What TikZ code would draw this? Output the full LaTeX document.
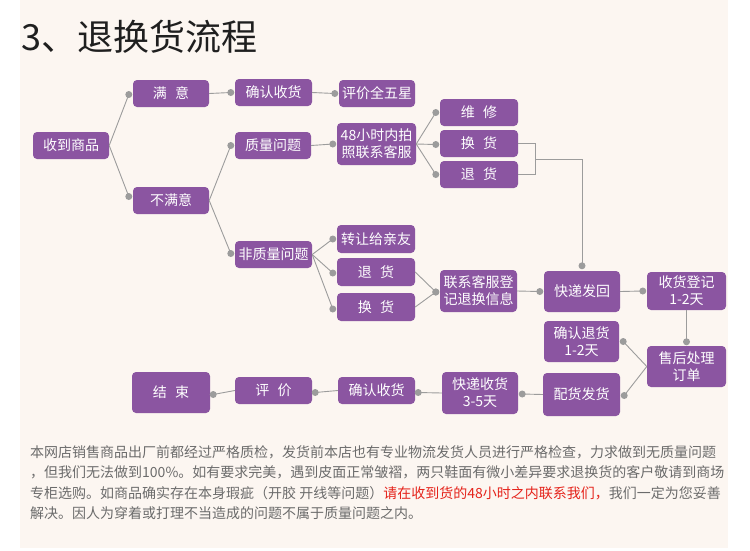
\documentclass[tikz,border=0pt]{standalone}
\usepackage{fontspec}
\setmainfont{Noto Sans CJK SC}
\usetikzlibrary{calc}
\definecolor{cream}{HTML}{FCF6F1}
\definecolor{boxpurple}{HTML}{8B55A1}
\definecolor{linegray}{HTML}{9C9C9C}
\definecolor{bodygray}{HTML}{6B6B6B}
\definecolor{alertred}{HTML}{E5231B}
\newcommand\gapp{\hspace{0.6em}}
\newcommand\lnk[2]{\draw[conn] (#1) -- (#2); \fill[dotc] (#2) circle (3.5pt);}
\begin{document}
\begin{tikzpicture}[x=1pt,y=-1pt,
  box/.style={fill=boxpurple, rounded corners=4pt, text=white, font=\fontsize{14}{17}\selectfont, align=center, inner sep=0pt},
  sbox/.style={box, minimum width=77pt, minimum height=27pt},
  tbox/.style={box, minimum width=77pt, minimum height=42pt},
  conn/.style={draw=linegray, line width=0.9pt},
  dotc/.style={fill=linegray},
  body/.style={anchor=west, inner sep=0pt, text=bodygray, font=\fontsize{14}{17}\selectfont}]

\fill[white] (0,0) rectangle (750,550);
\useasboundingbox (0,0) rectangle (750,550);
\fill[cream] (20,0) rectangle (728,548);

\node[anchor=west, inner sep=0pt, font=\fontsize{36}{40}\selectfont, text=black!88] (title) at (21,37) {3、退换货流程};

% nodes
\node[sbox, minimum width=76pt] (sdsp) at (71,145.5) {收到商品};
\node[sbox, minimum width=76pt] (my) at (171,93.5) {满\gapp 意};
\node[sbox, minimum width=76pt] (bmy) at (171,200.5) {不满意};
\node[sbox] (qrsh) at (273.5,92.5) {确认收货};
\node[sbox, minimum width=76pt] (pj5) at (377,93.5) {评价全五星};
\node[sbox, minimum width=76pt] (zlwt) at (273,145.5) {质量问题};
\node[tbox, minimum width=79pt] (h48) at (376.5,144) {48小时内拍\\照联系客服};
\node[sbox, minimum width=78pt] (wx) at (479,112.5) {维\gapp 修};
\node[sbox, minimum width=78pt] (hh) at (479,143.5) {换\gapp 货};
\node[sbox, minimum width=78pt] (th) at (479,174.5) {退\gapp 货};
\node[sbox] (fzl) at (273.5,254.5) {非质量问题};
\node[sbox, minimum width=78pt, minimum height=28pt] (zr) at (376,239) {转让给亲友};
\node[sbox, minimum width=78pt, minimum height=28pt] (th2) at (376,272) {退\gapp 货};
\node[sbox, minimum width=78pt, minimum height=28pt] (hh2) at (376,307) {换\gapp 货};
\node[tbox] (lxkf) at (478.5,291) {联系客服登\\记退换信息};
\node[tbox, minimum width=76pt, minimum height=41pt] (kdfh) at (582,291.5) {快递发回};
\node[tbox, minimum width=79pt, minimum height=38pt] (shdj) at (686.5,291) {收货登记\\1-2天};
\node[tbox, minimum width=75pt, minimum height=41pt] (qrth) at (581.5,341.5) {确认退货\\1-2天};
\node[tbox, minimum width=79pt, minimum height=41pt] (shcl) at (686.5,366.5) {售后处理\\订单};
\node[tbox, minimum height=43pt] (phfh) at (581.5,394.5) {配货发货};
\node[tbox, minimum width=76pt] (kdsh) at (480,393) {快递收货\\3-5天};
\node[sbox] (qrsh2) at (376.5,390.5) {确认收货};
\node[sbox] (pj) at (273.5,390.5) {评\gapp 价};
\node[tbox, minimum width=78pt, minimum height=41pt] (js) at (171,392.5) {结\gapp 束};

% dot coordinates
\coordinate (d-my) at ([xshift=-4pt,yshift=-1pt]my.west);
\coordinate (d-bmy) at ([xshift=-4pt,yshift=4pt]bmy.west);
\coordinate (d-qrsh) at ([xshift=-4pt]qrsh.west);
\coordinate (d-pj5) at ([xshift=-4pt]pj5.west);
\coordinate (d-zlwt) at ([xshift=-4pt]zlwt.west);
\coordinate (d-h48) at ([xshift=-4pt]h48.west);
\coordinate (d-wx) at ([xshift=-4pt]wx.west);
\coordinate (d-hh) at ([xshift=-4pt,yshift=-1pt]hh.west);
\coordinate (d-th) at ([xshift=-4pt]th.west);
\coordinate (d-fzl) at ([xshift=-4pt,yshift=1pt]fzl.west);
\coordinate (d-zr) at ([xshift=-4pt]zr.west);
\coordinate (d-th2) at ([xshift=-4pt,yshift=-1pt]th2.west);
\coordinate (d-hh2) at ([xshift=-4pt,yshift=-2pt]hh2.west);
\coordinate (d-lxkf) at ([xshift=-4pt,yshift=-1pt]lxkf.west);
\coordinate (d-kdfh) at ([xshift=-4pt]kdfh.west);
\coordinate (d-kdfhtop) at ([yshift=5pt]kdfh.north);
\coordinate (d-shdj) at ([xshift=-4pt]shdj.west);
\coordinate (d-shcl) at ([yshift=4pt]shcl.north);
\coordinate (d-qrth) at ([xshift=4pt]qrth.east);
\coordinate (d-phfh) at ([xshift=4pt,yshift=-1pt]phfh.east);
\coordinate (d-kdsh) at ([xshift=4pt,yshift=-1pt]kdsh.east);
\coordinate (d-qrsh2) at ([xshift=3pt,yshift=-2pt]qrsh2.east);
\coordinate (d-pj) at ([xshift=3pt,yshift=-2pt]pj.east);
\coordinate (d-js) at ([xshift=3pt,yshift=-2pt]js.east);

% connectors
\lnk{sdsp.east}{d-my}
\lnk{sdsp.east}{d-bmy}
\lnk{my.east}{d-qrsh}
\lnk{qrsh.east}{d-pj5}
\lnk{bmy.east}{d-zlwt}
\lnk{bmy.east}{d-fzl}
\lnk{zlwt.east}{d-h48}
\lnk{h48.east}{d-wx}
\lnk{h48.east}{d-hh}
\lnk{h48.east}{d-th}
\lnk{fzl.east}{d-zr}
\lnk{fzl.east}{d-th2}
\lnk{fzl.east}{d-hh2}
\lnk{th2.east}{d-lxkf}
\lnk{hh2.east}{d-lxkf}
\lnk{lxkf.east}{d-kdfh}
\lnk{kdfh.east}{d-shdj}
\lnk{shdj.south}{d-shcl}
\lnk{shcl.west}{d-qrth}
\lnk{shcl.west}{d-phfh}
\lnk{phfh.west}{d-kdsh}
\lnk{kdsh.west}{d-qrsh2}
\lnk{qrsh2.west}{d-pj}
\lnk{pj.west}{d-js}

% bracket from 换货/退货 to 快递发回
\coordinate (bkx) at (535,0);
\coordinate (bk1) at (hh.east -| bkx);
\coordinate (bk2) at (th.east -| bkx);
\coordinate (bkm) at ($(bk1)!0.5!(bk2)$);
\draw[conn, line width=0.8pt] (hh.east) -- (bk1) -- (bk2) -- (th.east);
\draw[conn, line width=0.8pt] ([xshift=1pt]bkm) -- (bkm -| d-kdfhtop) -- (d-kdfhtop);
\fill[dotc] (d-kdfhtop) circle (3.5pt);

% body text
\node[body] (t1) at (30,452) {本网店销售商品出厂前都经过严格质检，发货前本店也有专业物流发货人员进行严格检查，力求做到无质量问题};
\node[body] (t2) at (30,472) {，但我们无法做到100\%。如有要求完美，遇到皮面正常皱褶，两只鞋面有微小差异要求退换货的客户敬请到商场};
\node[body] (t3) at (30,493) {专柜选购。如商品确实存在本身瑕疵（开胶 开线等问题）\textcolor{alertred}{请在收到货的48小时之内联系我们，}我们一定为您妥善};
\node[body] (t4) at (30,513) {解决。因人为穿着或打理不当造成的问题不属于质量问题之内。};
\end{tikzpicture}
\end{document}
